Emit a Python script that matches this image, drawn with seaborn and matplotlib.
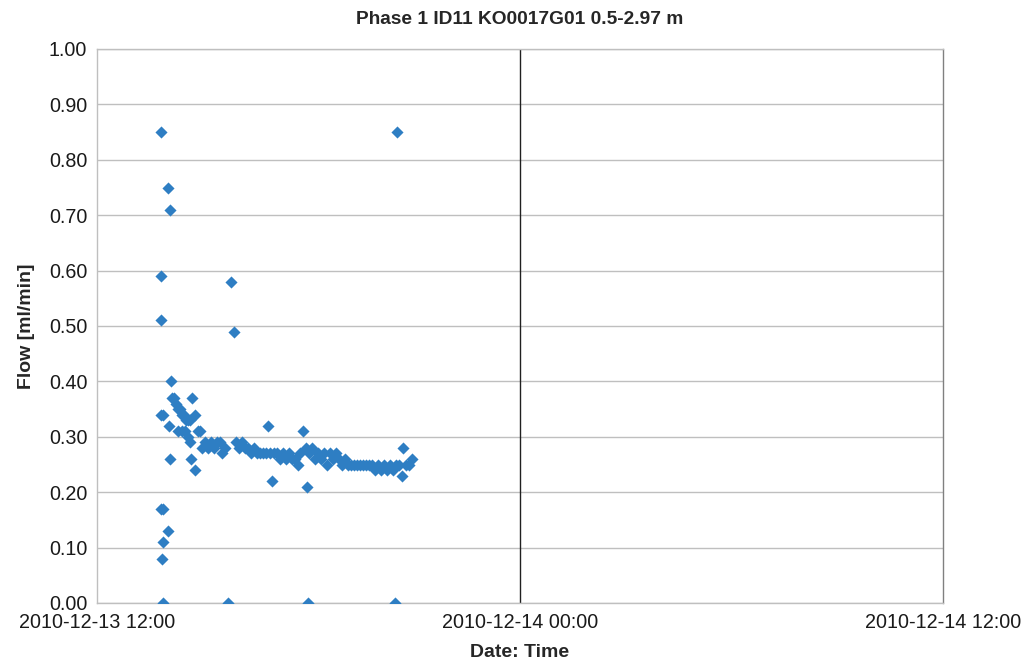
import matplotlib
matplotlib.use("Agg")
import matplotlib.pyplot as plt
import matplotlib.dates as mdates
import matplotlib.ticker as mticker
import seaborn as sns
import pandas as pd

times = [
    "13:49", "13:52", "13:49", "13:49", "13:49", "13:52", "13:49", "13:52", "13:52", "13:51",
    "14:01", "14:01", "14:04", "14:03", "14:04", "14:06", "14:08", "14:11", "14:14", "14:18",
    "14:21", "14:25", "14:28", "14:31", "14:35", "14:38", "14:18", "14:25", "14:30", "14:35",
    "14:38", "14:40", "14:42", "14:47", "14:47", "14:52", "14:55", "14:59", "15:04", "15:09",
    "15:14", "15:19", "15:24", "15:29", "15:33", "15:38", "15:43", "15:48", "15:53", "15:57",
    "16:02", "16:07", "16:12", "16:17", "16:22", "16:27", "16:32", "16:37", "16:43", "16:48",
    "16:51", "16:54", "16:58", "17:01", "17:06", "17:11", "17:17", "17:22", "17:27", "17:32",
    "17:37", "17:42", "17:45", "17:51", "17:56", "17:57", "17:59", "18:01", "18:06", "18:11",
    "18:16", "18:21", "18:26", "18:31", "18:37", "18:42", "18:47", "18:52", "18:57", "19:02",
    "19:07", "19:12", "19:17", "19:23", "19:28", "19:33", "19:38", "19:43", "19:48", "19:53",
    "19:58", "20:03", "20:08", "20:14", "20:19", "20:24", "20:27", "20:31", "20:29", "20:34",
    "20:39", "20:41", "20:46", "20:51", "20:56",
]
flow = [
    0.85, 0.00, 0.59, 0.51, 0.34, 0.34, 0.17, 0.17, 0.11, 0.08,
    0.13, 0.75, 0.71, 0.32, 0.26, 0.40, 0.37, 0.37, 0.36, 0.35,
    0.35, 0.34, 0.34, 0.33, 0.33, 0.33, 0.31, 0.31, 0.31, 0.30,
    0.29, 0.26, 0.37, 0.34, 0.24, 0.31, 0.31, 0.28, 0.29, 0.28,
    0.29, 0.28, 0.29, 0.29, 0.27, 0.28, 0.00, 0.58, 0.49, 0.29,
    0.28, 0.29, 0.28, 0.28, 0.27, 0.28, 0.27, 0.27, 0.27, 0.27,
    0.32, 0.27, 0.22, 0.27, 0.27, 0.26, 0.27, 0.26, 0.27, 0.26,
    0.26, 0.25, 0.27, 0.31, 0.28, 0.21, 0.00, 0.27, 0.28, 0.26,
    0.27, 0.26, 0.27, 0.25, 0.27, 0.26, 0.27, 0.26, 0.25, 0.26,
    0.25, 0.25, 0.25, 0.25, 0.25, 0.25, 0.25, 0.25, 0.25, 0.24,
    0.25, 0.24, 0.25, 0.24, 0.25, 0.24, 0.00, 0.85, 0.25, 0.25,
    0.23, 0.28, 0.25, 0.25, 0.26,
]
date = "2010-12-13"
x_start = "2010-12-13 12:00"
x_mid = "2010-12-14 00:00"
x_end = "2010-12-14 12:00"
title = "Phase 1 ID11 KO0017G01 0.5-2.97 m"
xlabel = "Date: Time"
ylabel = "Flow [ml/min]"

df = pd.DataFrame({
    "time": pd.to_datetime([f"{date} {t}" for t in times]),
    "flow": flow,
})

sns.set_style("white")
plt.rcParams["font.family"] = ["Liberation Sans", "DejaVu Sans"]

fig = plt.figure(figsize=(10.26, 6.68), dpi=100)
ax = fig.add_axes([97 / 1026, 65 / 668, 846 / 1026, 554 / 668])

sns.scatterplot(data=df, x="time", y="flow", ax=ax, marker="D", s=38,
                color="#2e7ec3", linewidth=0, zorder=3)

ax.set_xlim(pd.Timestamp(x_start), pd.Timestamp(x_end))
ax.set_ylim(0, 1.0)
ax.xaxis.set_major_locator(mticker.FixedLocator(
    mdates.date2num([pd.Timestamp(x_start), pd.Timestamp(x_mid), pd.Timestamp(x_end)])))
ax.xaxis.set_major_formatter(mdates.DateFormatter("%Y-%m-%d %H:%M"))
ax.yaxis.set_major_locator(mticker.MultipleLocator(0.1))
ax.yaxis.set_major_formatter(mticker.FormatStrFormatter("%.2f"))

ax.grid(axis="y", color="#bfbfbf", linewidth=1.0)
ax.grid(axis="x", visible=False)
ax.axvline(pd.Timestamp(x_mid), color="#202020", linewidth=1.0, zorder=2)
for side in ["left", "bottom", "top"]:
    ax.spines[side].set_color("#bfbfbf")
    ax.spines[side].set_linewidth(1.0)
ax.spines["right"].set_color("#808080")
ax.spines["right"].set_linewidth(1.0)

ax.tick_params(axis="both", length=0, labelsize=14.2, colors="#1a1a1a", pad=7)
ax.set_title(title, fontsize=13.8, fontweight="bold", pad=18)
ax.set_xlabel(xlabel, fontsize=14, fontweight="bold", labelpad=9)
ax.set_ylabel(ylabel, fontsize=14, fontweight="bold", labelpad=10)

fig.savefig("out.png", dpi=100)
